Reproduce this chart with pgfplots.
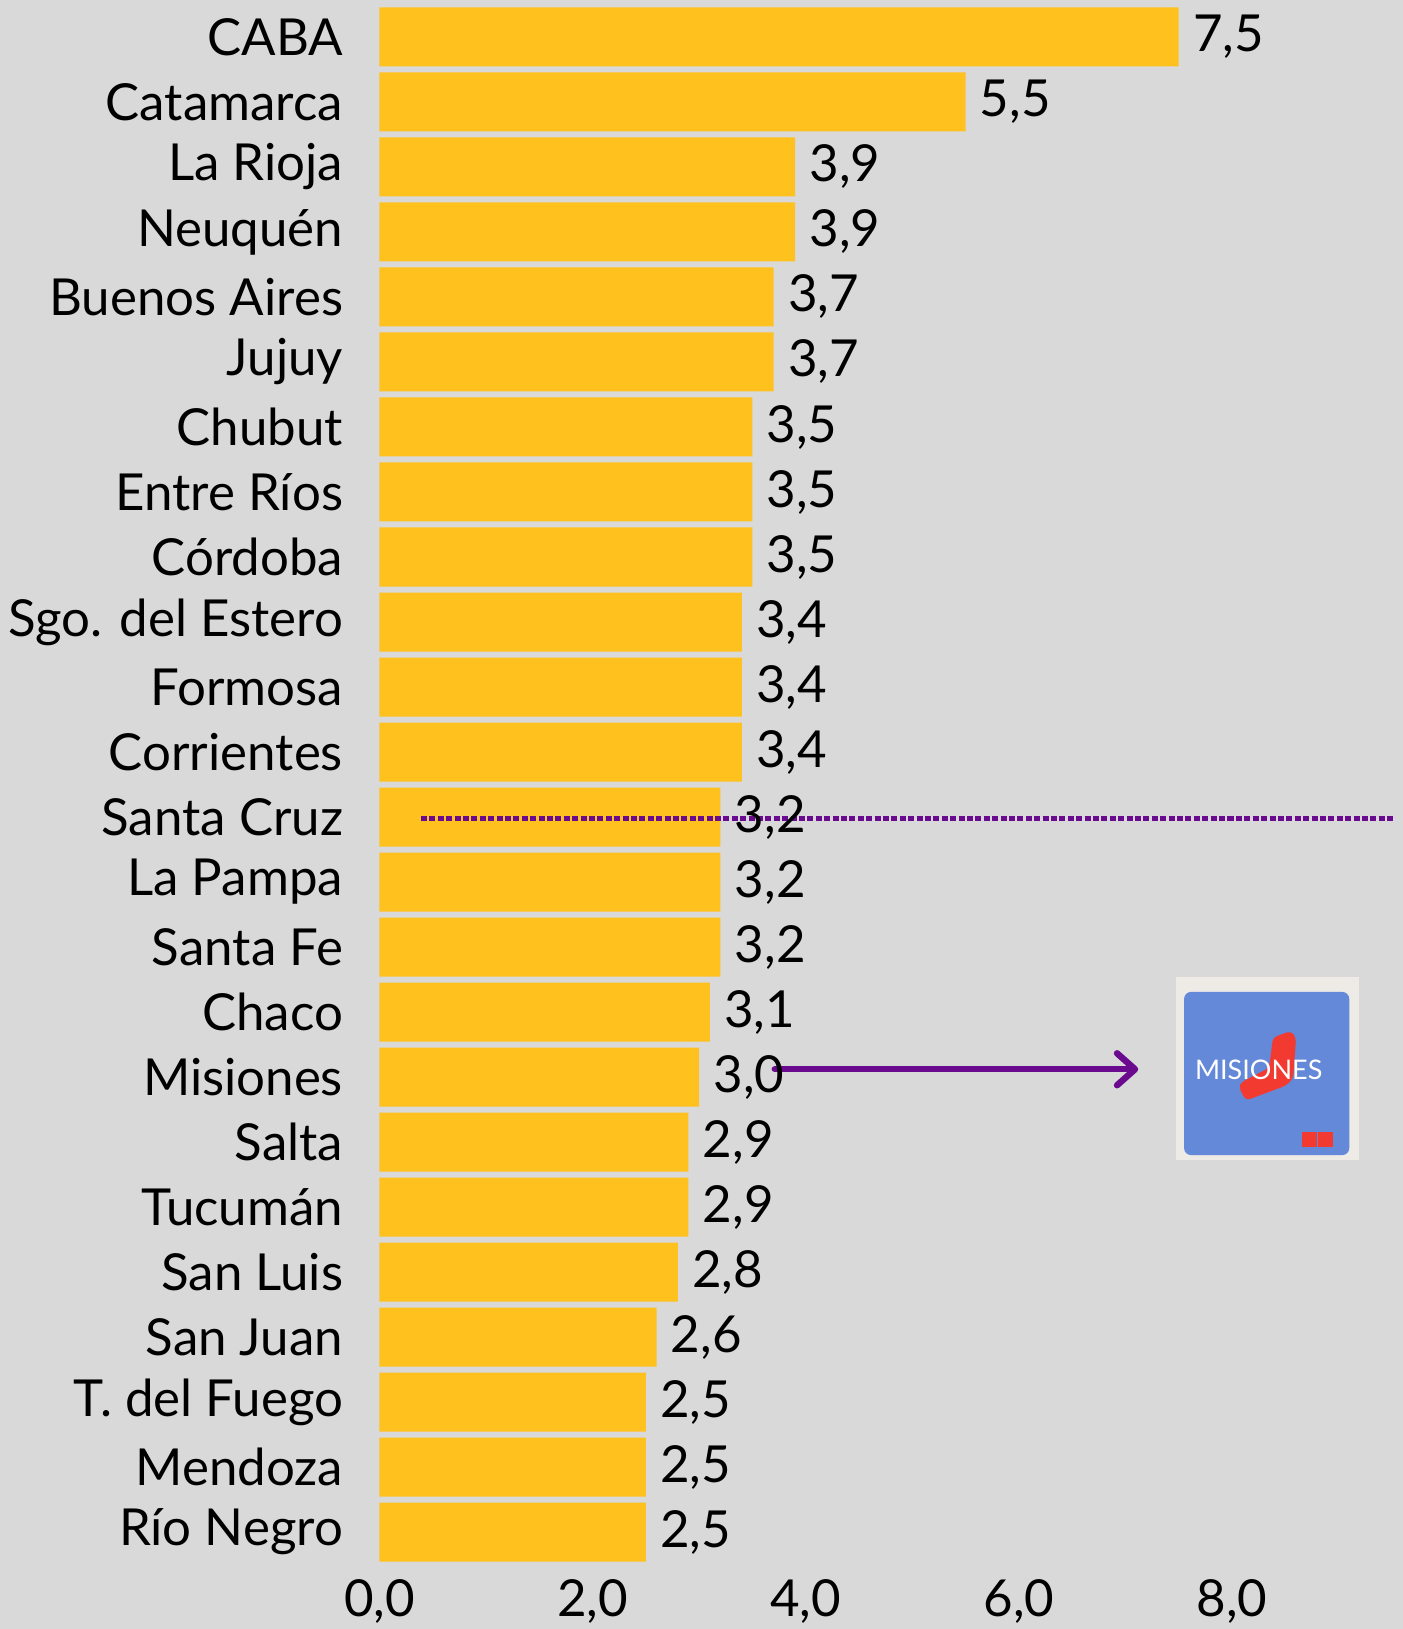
\documentclass[border=0pt]{standalone}
\usepackage{fontspec}
\setmainfont{Lato}
\usepackage{pgfplots}
\pgfplotsset{compat=1.18}
\usetikzlibrary{backgrounds,arrows.meta}
\definecolor{bgc}{HTML}{D9D9D9}
\definecolor{barc}{HTML}{FFC11E}
\definecolor{purp}{HTML}{6A0A8E}
\definecolor{logobg}{HTML}{EEEAE6}
\definecolor{logoblue}{HTML}{6389D8}
\definecolor{logored}{HTML}{F23A30}

\begin{document}
\begin{tikzpicture}
\begin{axis}[
  xbar, bar width=29.5pt, bar shift=0pt,
  scale only axis, width=511.5pt, height=780pt,
  xmin=0, xmax=9.6, ymin=-0.5, ymax=23.5, y dir=reverse,
  axis line style={draw=none}, major tick length=0pt,
  xtick={0,2,4,6,8}, ytick={0,...,23},
  yticklabels={CABA, Catamarca, La Rioja, Neuquén, Buenos Aires, Jujuy,
    Chubut, Entre Ríos, Córdoba, Sgo. del Estero, Formosa, Corrientes,
    Santa Cruz, La Pampa, Santa Fe, Chaco, Misiones, Salta, Tucumán,
    San Luis, San Juan, T. del Fuego, Mendoza, Río Negro},
  /pgf/number format/fixed, /pgf/number format/fixed zerofill,
  /pgf/number format/precision=1, /pgf/number format/use comma,
  /pgf/number format/assume math mode=true,
  tick label style={font=\fontsize{25.5}{29}\selectfont, inner sep=0pt},
  yticklabel style={anchor=east, xshift=-18pt},
  xticklabel style={anchor=north, yshift=-7pt},
  point meta=x,
  nodes near coords,
  every node near coord/.append style={anchor=west, inner sep=0pt, xshift=7pt,
    font=\fontsize{25.5}{29}\selectfont, text=black},
  clip=false,
]
\addplot[fill=barc, draw=none] coordinates {
  (7.5,0) (5.5,1) (3.9,2) (3.9,3) (3.7,4) (3.7,5) (3.5,6) (3.5,7)
  (3.5,8) (3.4,9) (3.4,10) (3.4,11) (3.2,12) (3.2,13) (3.2,14) (3.1,15)
  (3.0,16) (2.9,17) (2.9,18) (2.8,19) (2.6,20) (2.5,21) (2.5,22) (2.5,23)
};
% average line and pointer to the logo
\draw[purp, line width=2.3pt, dash pattern=on 3pt off 1.2pt]
  (axis cs:0.39,12.02) -- (axis cs:9.51,12.02);
\draw[purp, line width=3.2pt, line cap=round,
  -{Straight Barb[length=9pt,width=16pt,line width=3.2pt,round]}]
  (axis cs:3.71,15.88) -- (axis cs:7.12,15.88);
% logo
\fill[logobg] (axis cs:7.47,14.46) rectangle (axis cs:9.19,17.28);
\fill[logoblue, rounded corners=3.5pt] (axis cs:7.55,14.69) rectangle (axis cs:9.10,17.20);
\fill[logored, rounded corners=2pt] (axis cs:8.385,15.39) -- (axis cs:8.554,15.29)
  -- (axis cs:8.601,15.40) -- (axis cs:8.573,16.02) -- (axis cs:8.507,16.13)
  -- (axis cs:8.131,16.36) -- (axis cs:8.066,16.17) -- (axis cs:8.085,16.08)
  -- (axis cs:8.347,15.86) -- cycle;
\node[white, font=\fontsize{13.5}{15}\selectfont, inner sep=0pt] at (axis cs:8.25,15.89) {MISIONES};
\fill[logored] (axis cs:8.66,16.84) rectangle (axis cs:8.80,17.08);
\fill[logored] (axis cs:8.81,16.84) rectangle (axis cs:8.95,17.08);
\coordinate (bl) at (axis cs:-3.56,24.49);
\coordinate (tr) at (axis cs:9.6,-0.568);
\end{axis}
\begin{scope}[on background layer]
  \fill[bgc] (bl) rectangle (tr);
\end{scope}
\pgfresetboundingbox
\useasboundingbox (bl) rectangle (tr);
\end{tikzpicture}
\end{document}
